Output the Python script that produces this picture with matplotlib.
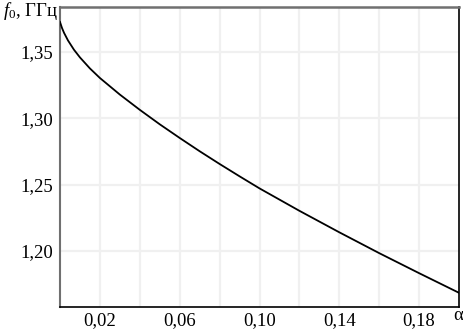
import matplotlib
matplotlib.use("Agg")
import matplotlib.pyplot as plt

plt.rcParams['font.family'] = ['Liberation Serif', 'DejaVu Serif']
plt.rcParams['mathtext.fontset'] = 'custom'
plt.rcParams['mathtext.rm'] = 'Liberation Serif'
plt.rcParams['mathtext.it'] = 'Liberation Serif:italic'

alpha = [0.0, 0.001, 0.002, 0.004, 0.007, 0.010, 0.015, 0.020, 0.030, 0.040,
         0.050, 0.060, 0.070, 0.080, 0.090, 0.100, 0.120, 0.140, 0.160, 0.180, 0.200]
f0 = [1.3726, 1.3681, 1.3645, 1.3587, 1.3517, 1.3459, 1.3376, 1.3304, 1.3179, 1.3064,
      1.2955, 1.2852, 1.2752, 1.2656, 1.2563, 1.2472, 1.2303, 1.2141, 1.1984, 1.1833, 1.1685]

xticks_grid = [0.02, 0.04, 0.06, 0.08, 0.10, 0.12, 0.14, 0.16, 0.18]
xticks_lab = [0.02, 0.06, 0.10, 0.14, 0.18]
xtick_labels = ["0,02", "0,06", "0,10", "0,14", "0,18"]
yticks = [1.20, 1.25, 1.30, 1.35]
ytick_labels = ["1,20", "1,25", "1,30", "1,35"]

W, H = 464, 330
fig = plt.figure(figsize=(W / 100, H / 100), dpi=100)
ax = fig.add_axes([60 / W, 1 - 307 / H, (459 - 60) / W, (307 - 7) / H])

ax.set_xlim(0, 0.2)
ax.set_ylim(1.1578, 1.3839)

for x in xticks_grid:
    ax.axvline(x, color='#f0f0f0', lw=1.6, zorder=0)
for y in yticks:
    ax.axhline(y, color='#f0f0f0', lw=1.6, zorder=0)

ax.plot(alpha, f0, color='black', lw=1.3, zorder=3)

ax.set_xticks(xticks_lab)
ax.set_xticklabels(xtick_labels)
ax.set_yticks(yticks)
ax.set_yticklabels(ytick_labels)
ax.tick_params(axis='both', length=0, labelsize=13.5)
ax.tick_params(axis='x', pad=3.5)
ax.tick_params(axis='y', pad=5)

ax.spines['left'].set_color('#707070')
ax.spines['left'].set_linewidth(1.5)
ax.spines['top'].set_color('#707070')
ax.spines['top'].set_linewidth(1.8)
ax.spines['bottom'].set_color('black')
ax.spines['bottom'].set_linewidth(1.2)
ax.spines['right'].set_color('black')
ax.spines['right'].set_linewidth(1.2)

fig.text(3 / W, 1 - 16 / H, "$f_0$, ГГц", fontsize=13.5, ha='left', va='baseline')
fig.text(453 / W, 1 - 320 / H, "α", fontsize=13.5, ha='left', va='baseline')

fig.savefig("out.png", dpi=100)
